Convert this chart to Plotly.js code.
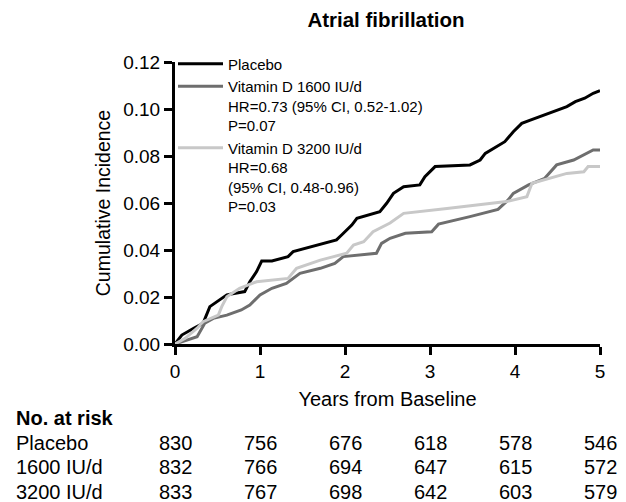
<!DOCTYPE html>
<html>
<head>
<meta charset="utf-8">
<script src="https://cdn.plot.ly/plotly-3.0.1.min.js"></script>
<style>html,body{margin:0;padding:0;background:#fff;}#chart{width:626px;height:502px;}</style>
</head>
<body>
<div id="chart"></div>
<script>
// ---- data ----
const placeboX = [0,0.08,0.22,0.33,0.41,0.55,0.61,0.82,0.88,0.96,1.02,1.14,1.33,1.39,1.90,1.96,2.08,2.14,2.41,2.49,2.57,2.69,2.88,2.94,3.06,3.47,3.59,3.65,3.78,3.88,3.98,4.08,4.18,4.61,4.71,4.82,4.92,5.0];
const placeboY = [0,0.0038,0.0067,0.0088,0.0159,0.0194,0.0209,0.0223,0.0265,0.0308,0.0353,0.0353,0.0372,0.0393,0.0443,0.0464,0.0506,0.0535,0.0563,0.0599,0.0641,0.0669,0.0677,0.0712,0.0755,0.0762,0.0783,0.0811,0.0840,0.0861,0.0903,0.0939,0.0953,0.1010,0.1031,0.1046,0.1067,0.1078];

const d1600X = [0,0.14,0.26,0.35,0.45,0.61,0.78,0.88,1.0,1.14,1.31,1.47,1.71,1.88,1.98,2.37,2.43,2.53,2.71,3.02,3.1,3.47,3.80,3.92,3.98,4.16,4.35,4.49,4.69,4.92,5.0];
const d1600Y = [0,0.0017,0.0031,0.0088,0.0109,0.0123,0.0145,0.0166,0.0209,0.0237,0.0258,0.0301,0.0322,0.0343,0.0372,0.0386,0.0428,0.0450,0.0471,0.0478,0.0510,0.0542,0.0573,0.0613,0.0641,0.0677,0.0705,0.0762,0.0783,0.0826,0.0826];

const d3200X = [0,0.12,0.26,0.33,0.51,0.55,0.61,0.76,0.96,1.33,1.43,1.71,2.02,2.10,2.22,2.33,2.53,2.57,2.69,3.2,3.9,4.14,4.2,4.61,4.81,4.86,5.0];
const d3200Y = [0,0.0024,0.0067,0.0095,0.0123,0.0159,0.0201,0.0237,0.0265,0.0279,0.0322,0.0357,0.0386,0.0421,0.0435,0.0478,0.0515,0.0525,0.0556,0.0577,0.0606,0.0627,0.0684,0.0726,0.0733,0.0755,0.0755];

const seriesNames = [
  "Placebo",
  "Vitamin D 1600 IU/d<br>HR=0.73 (95% CI, 0.52-1.02)<br>P=0.07",
  "Vitamin D 3200 IU/d<br>HR=0.68<br>(95% CI, 0.48-0.96)<br>P=0.03"
];

const xTicks = [0,1,2,3,4,5];
const yTicks = [0,0.02,0.04,0.06,0.08,0.10,0.12];

const riskYears = [0,1,2,3,4,5];
const riskLabels = ["Placebo","1600 IU/d","3200 IU/d"];
const riskPlacebo = [830,756,676,618,578,546];
const risk1600 = [832,766,694,647,615,572];
const risk3200 = [833,767,698,642,603,579];

// ---- chart ----
const FONT = "Liberation Sans, Arial, Helvetica, sans-serif";
const colors = ["#000000","#6e6e6e","#c8c8c8"];

const traces = [
  {x: placeboX, y: placeboY, name: seriesNames[0], mode: "lines", line: {color: colors[0], width: 3}},
  {x: d1600X, y: d1600Y, name: seriesNames[1], mode: "lines", line: {color: colors[1], width: 3}},
  {x: d3200X, y: d3200Y, name: seriesNames[2], mode: "lines", line: {color: colors[2], width: 3}}
];

const M = {l: 175, r: 26, t: 62, b: 158};
const plotH = 502 - M.t - M.b;
const plotW = 626 - M.l - M.r;
function py(p){ return (502 - M.b - p) / plotH; }
function px(p){ return (p - M.l) / plotW; }

const annotations = [];
annotations.push({xref: "paper", yref: "paper", x: px(14), y: py(418), xanchor: "left", yanchor: "middle",
  text: "<b>No. at risk</b>", showarrow: false, font: {family: FONT, size: 20, color: "#000"}});
const rowsY = [443, 467, 492];
const riskRows = [riskPlacebo, risk1600, risk3200];
riskRows.forEach((row, i) => {
  annotations.push({xref: "paper", yref: "paper", x: px(14), y: py(rowsY[i]), xanchor: "left", yanchor: "middle",
    text: riskLabels[i], showarrow: false, font: {family: FONT, size: 20, color: "#000"}});
  row.forEach((v, j) => {
    annotations.push({xref: "x", yref: "paper", x: riskYears[j], y: py(rowsY[i]), xanchor: "center", yanchor: "middle",
      text: String(v), showarrow: false, font: {family: FONT, size: 20, color: "#000"}});
  });
});

const layout = {
  width: 626, height: 502,
  margin: M,
  paper_bgcolor: "#ffffff", plot_bgcolor: "#ffffff",
  font: {family: FONT, color: "#000"},
  title: {text: "<b>Atrial fibrillation</b>", font: {family: FONT, size: 20.5, color: "#000"},
    xref: "paper", x: px(386), xanchor: "center", yref: "container", y: 1 - 20/502, yanchor: "middle"},
  xaxis: {range: [0,5], tickvals: xTicks, ticktext: xTicks.map(String), showgrid: false, zeroline: false,
    showline: true, linewidth: 3, linecolor: "#000", ticks: "outside", ticklen: 8, tickwidth: 3, tickcolor: "#000",
    tickfont: {family: FONT, size: 19, color: "#000"},
    title: {text: "Years from Baseline", font: {family: FONT, size: 20, color: "#000"}, standoff: 12}},
  yaxis: {range: [0,0.12], tickvals: yTicks, tickformat: ".2f", showgrid: false, zeroline: false,
    showline: true, linewidth: 3, linecolor: "#000", ticks: "outside", ticklen: 8, tickwidth: 3, tickcolor: "#000",
    tickfont: {family: FONT, size: 19, color: "#000"},
    title: {text: "Cumulative Incidence", font: {family: FONT, size: 19.5, color: "#000"}, standoff: 8}},
  showlegend: true,
  legend: {x: px(173), y: 1.051, xanchor: "left", yanchor: "top", bgcolor: "rgba(0,0,0,0)", borderwidth: 0,
    font: {family: FONT, size: 15, color: "#000"}, valign: "top", itemwidth: 45, tracegroupgap: 0},
  annotations: annotations
};

Plotly.newPlot("chart", traces, layout, {displayModeBar: false, staticPlot: true});
</script>
</body>
</html>
